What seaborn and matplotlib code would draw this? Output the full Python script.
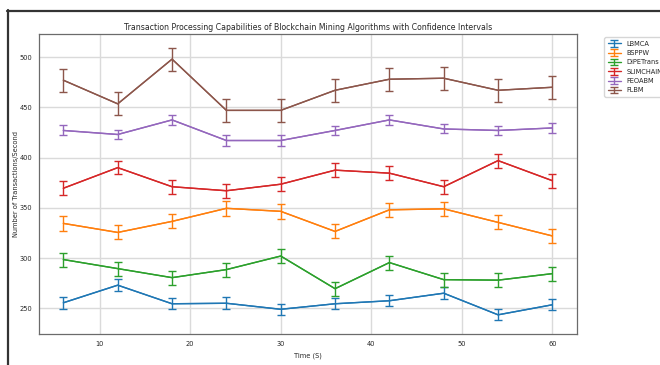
import numpy as np
import pandas as pd
import matplotlib
matplotlib.use("Agg")
import matplotlib.pyplot as plt
import seaborn as sns
from matplotlib.lines import Line2D

# data
time_s = [6, 12, 18, 24, 30, 36, 42, 48, 54, 60]
algorithms = ["LBMCA", "BSPPW", "DiPETrans", "SLIMCHAIN", "FEOABM", "FLBM"]

lbmca = [255.5, 273, 254.5, 255, 249, 254.5, 257.5, 265, 243.5, 253.5]
bsppw = [334.5, 325.5, 336.5, 349.5, 346.5, 326.5, 348, 349, 335.5, 322]
dipetrans = [298.5, 289.5, 280.5, 288.5, 302, 269.5, 295.5, 278.5, 278, 284.5]
slimchain = [369.5, 390, 371, 367, 373.5, 387.5, 384.5, 371, 397, 377]
feoabm = [427, 423, 437.5, 417, 417, 427, 437.5, 428.5, 427, 429.5]
flbm = [477, 453.5, 498, 447, 447, 467, 478, 479, 467, 470]

err_lbmca = [6, 6, 5.5, 6, 5.5, 5.5, 5.5, 6, 5.5, 5.5]
err_bsppw = [7.5, 7, 7, 7.5, 7.5, 7, 7, 7, 7, 7]
err_dipetrans = [7, 7, 7, 7, 7, 7, 7, 7, 7, 7]
err_slimchain = [7, 6.5, 7, 7, 7, 7, 7, 7, 7, 7]
err_feoabm = [5, 4.5, 5, 5, 5, 4.5, 5, 4.5, 4.5, 5]
err_flbm = [11.5, 11.5, 11.5, 11.5, 11.5, 11.5, 11.5, 11.5, 11.5, 11.5]

means = [lbmca, bsppw, dipetrans, slimchain, feoabm, flbm]
errors = [err_lbmca, err_bsppw, err_dipetrans, err_slimchain, err_feoabm, err_flbm]

rows = []
for name, m, e in zip(algorithms, means, errors):
    for t, v, ev in zip(time_s, m, e):
        rows.append({"Time": t, "Algorithm": name, "Value": v, "Err": ev})
df = pd.DataFrame(rows)

sns.set_style("white")
plt.rcParams["font.family"] = ["DejaVu Sans"]
colors = sns.color_palette("tab10", 6)

fig = plt.figure(figsize=(6.6, 3.65), dpi=100)
ax = fig.add_axes([0.059, 0.085, 0.815, 0.822])

sns.lineplot(data=df, x="Time", y="Value", hue="Algorithm", palette=colors,
             linewidth=1.0, legend=False, ax=ax)

for name, c in zip(algorithms, colors):
    sub = df[df["Algorithm"] == name]
    ax.errorbar(sub["Time"], sub["Value"], yerr=sub["Err"], color=c,
                capsize=2.6, elinewidth=1.0, capthick=1.0, linewidth=1.0,
                label=name)

ax.set_title("Transaction Processing Capabilities of Blockchain Mining Algorithms with Confidence Intervals",
             fontsize=5.6, pad=3)
ax.set_xlabel("Time (S)", fontsize=4.8, labelpad=4)
ax.set_ylabel("Number of Transactions/Second", fontsize=4.8)
ax.yaxis.set_label_coords(-0.037, 0.5)
ax.tick_params(axis="both", labelsize=4.8, length=2.5, width=0.6, color="#555555", pad=2.5)
ax.set_yticks([250, 300, 350, 400, 450, 500])
ax.set_xticks([10, 20, 30, 40, 50, 60])
ax.grid(True, color="#dadada", linewidth=1.0)
for s in ax.spines.values():
    s.set_color("#6b6b6b")
    s.set_linewidth(0.9)

ax.legend(loc="upper left", bbox_to_anchor=(1.045, 1.0), fontsize=4.8,
          frameon=True, edgecolor="#cccccc", handlelength=2.0,
          borderpad=0.5, labelspacing=0.5)

# dark frame lines at top and left of the image
fig.add_artist(Line2D([7.5 / 660, 7.5 / 660], [0, 1 - 10 / 365], color="#333333",
                      linewidth=1.6, transform=fig.transFigure))
fig.add_artist(Line2D([7 / 660, 1], [1 - 10.5 / 365, 1 - 10.5 / 365], color="#333333",
                      linewidth=1.6, transform=fig.transFigure))

fig.savefig("out.png", dpi=100)
